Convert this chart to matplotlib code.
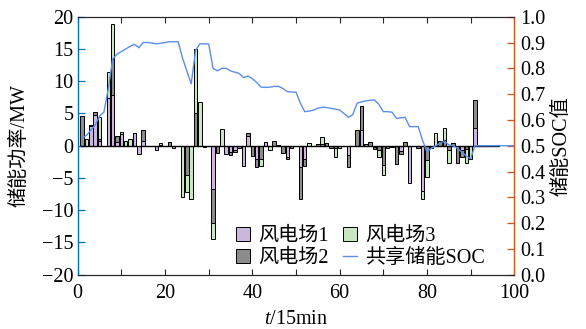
import numpy as np
import matplotlib.pyplot as plt
from matplotlib.ticker import MultipleLocator, FormatStrFormatter

plt.rcParams['font.family'] = ['Liberation Serif', 'Noto Sans CJK SC']
plt.rcParams['mathtext.fontset'] = 'custom'
plt.rcParams['mathtext.rm'] = 'Liberation Serif'
plt.rcParams['mathtext.it'] = 'Liberation Serif:italic'
plt.rcParams['font.size'] = 14.5

# storage power of each wind farm (MW), time steps 1..96
t = np.arange(1, 97)
wf1 = [0, 0, 3.1, 4.7, 0.8, 0, 7.4, 7.9, 0.6, 1.8,
       0, 0, 1.9, -1.3, 0.7, 0, 0, -0.6, 0, 0,
       0, 0, 0, 0, 0, 0, 0, 0, 0, 0,
       -6.75, 0, 0, -1.3, -0.9, -0.7, 0, -3.1, 1.5, 0,
       -2.1, 0, 0.5, 0, 0, 0, 0, -1.7, 0, 0,
       -3.3, -2.1, 0, 0, 0, 0, 0, 0, 0, 0,
       0, -1.45, 0, 0, 2.5, 0, 0, -0.2, 0, 0,
       0, 0, 0, -0.8, 0, -5.8, 0, 0, -7.0, 0,
       0, 0, 0, 0, 0, 0, 0, -0.7, 0, 0,
       2.7, 0, 0, 0, 0, 0]
wf2 = [4.6, 0, 0.15, 0.6, 0.2, 0, 0, 5.6, 0.9, 0,
       0, 0, 0, 0, 1.8, 0, 0, 0, 0.1, 0,
       0.6, 0, 0, 0, -4.6, 0, 5.1, 0, 0, 0,
       -5.25, -1.2, 0, 0, -0.6, -0.2, -0.3, 0, 0.4, -1.6,
       -1.2, -2.1, 0.1, 0, 0.7, 0.1, -1.2, -0.4, -0.3, 0,
       -5.0, -1.0, 0, 0, 0.2, 0.3, 0.35, -0.3, -0.3, 0,
       0, -1.9, 0, 2.5, 3.7, 0.3, 0.6, -0.3, -0.7, -3.05,
       -0.3, -0.2, -2.8, -0.5, 0.6, 0, 0, -0.3, 0, -2.2,
       -0.3, 0, 0.7, 0.9, -0.7, 0.35, -2.7, -1.0, -0.5, 0,
       4.4, 0.1, -0.1, 0.1, 0.1, 0.1]
wf3 = [0, 1.0, 0, 0, 3.4, 0, 4.0, 5.3, 0, 0.35,
       0.7, 1.0, 0, 0, 0, 0, 0, 0, 0.3, 0,
       0, -0.3, 0, -8.0, -2.6, -8.3, 9.95, 6.8, -0.25, 0,
       -2.4, 0, 2.6, 0, 0, 0, 0, 0, 0, 0,
       0, -1.1, 0, -0.6, 0, 0, 0, 0, 0, 0,
       0, 0, 0.35, 0, 0, 1.0, 0, 0, -1.5, -0.3,
       0, 0, 0, 0, 0, 0, 0, 0, -1.1, -1.5,
       0, 0, 0, 0, 0, 0, 0, 0, -1.3, -2.6,
       0, 1.9, 0, 1.9, -2.0, 0, 0, 0, -2.2, -2.0,
       0, 0, 0, 0, 0, 0]

# shared storage SOC
soc_t = list(range(1, 101))
soc_v = [0.53, 0.54, 0.56, 0.58, 0.615, 0.63, 0.72, 0.835, 0.855, 0.865,
         0.875, 0.885, 0.893, 0.88, 0.90, 0.90, 0.898, 0.895, 0.897, 0.90,
         0.903, 0.903, 0.903, 0.84, 0.79, 0.74, 0.87, 0.895, 0.895, 0.894,
         0.80, 0.79, 0.80, 0.80, 0.79, 0.785, 0.78, 0.764, 0.77, 0.76,
         0.745, 0.727, 0.726, 0.727, 0.73, 0.73, 0.722, 0.71, 0.708, 0.708,
         0.665, 0.632, 0.634, 0.638, 0.645, 0.649, 0.648, 0.645, 0.642, 0.638,
         0.625, 0.61, 0.62, 0.665, 0.67, 0.674, 0.676, 0.677, 0.66, 0.632,
         0.632, 0.63, 0.606, 0.608, 0.61, 0.574, 0.574, 0.574, 0.52, 0.477,
         0.49, 0.50, 0.51, 0.518, 0.503, 0.50, 0.49, 0.475, 0.46, 0.45,
         0.50, 0.50, 0.50, 0.50, 0.50, 0.50, 0.50, 0.50, 0.50, 0.50]

names = ['风电场1', '风电场2', '风电场3']
colors = ['#CBB6DD', '#8C8C8C', '#C8E6C2']
blue = '#0072BD'
orange = '#D95319'
dark = '#262626'

fig = plt.figure(figsize=(5.86, 3.29), dpi=100)
ax = fig.add_axes([0.1326, 0.165, 0.745, 0.7842])
ax2 = ax.twinx()

pos = np.zeros(len(t))
neg = np.zeros(len(t))
bars = []
for vals, c, n in zip([wf1, wf2, wf3], colors, names):
    v = np.array(vals, dtype=float)
    bottom = np.where(v >= 0, pos, neg)
    b = ax.bar(t, v, width=0.8, bottom=bottom, color=c, edgecolor='black',
               linewidth=0.7, label=n)
    bars.append(b)
    pos += np.where(v > 0, v, 0)
    neg += np.where(v < 0, v, 0)

ax.hlines(0, 0.5, 96.5, color='black', linewidth=1.0, zorder=3)

line, = ax2.plot(soc_t, soc_v, color='#5B8FEA', linewidth=1.0, label='共享储能SOC')

ax.set_xlim(0, 100)
ax.set_ylim(-20, 20)
ax2.set_ylim(0, 1)

ax.xaxis.set_major_locator(MultipleLocator(20))
ax.xaxis.set_minor_locator(MultipleLocator(10))
ax.yaxis.set_major_locator(MultipleLocator(5))
ax2.yaxis.set_major_locator(MultipleLocator(0.1))
ax2.yaxis.set_major_formatter(FormatStrFormatter('%.1f'))

ax.tick_params(axis='x', which='both', direction='in', top=True, bottom=True,
               length=4, width=0.8, color=dark, labelcolor='black', pad=7)
ax.tick_params(axis='y', direction='in', left=True, right=False, length=5,
               width=0.9, color=blue, labelcolor='black', pad=3)
ax2.tick_params(axis='y', direction='in', right=True, left=False, length=5,
                width=0.9, color=orange, labelcolor='black', pad=4)

ax.spines['left'].set_color(blue)
ax.spines['right'].set_visible(False)
ax2.spines['left'].set_visible(False)
ax2.spines['right'].set_color(orange)
for a in (ax, ax2):
    for s in ('top', 'bottom'):
        a.spines[s].set_color(dark)
        a.spines[s].set_linewidth(0.8)
ax.spines['left'].set_linewidth(1.0)
ax2.spines['right'].set_linewidth(1.0)

ax.set_xlabel('$t$/15min')
ax.xaxis.set_label_coords(0.5, -0.135)
ax.set_ylabel('储能功率/MW')
ax.yaxis.set_label_coords(-0.11, 0.5)
ax2.set_ylabel('储能SOC值')
ax2.yaxis.set_label_coords(1.087, 0.5)

ax2.legend(handles=[bars[0], bars[1], bars[2], line], ncol=2, frameon=False,
           loc='upper left', bbox_to_anchor=(0.33, 0.24), handlelength=0.7,
           handleheight=0.7, handletextpad=0.4, columnspacing=0.7,
           labelspacing=0.15, borderpad=0.2)

plt.savefig('out.png', dpi=100)
